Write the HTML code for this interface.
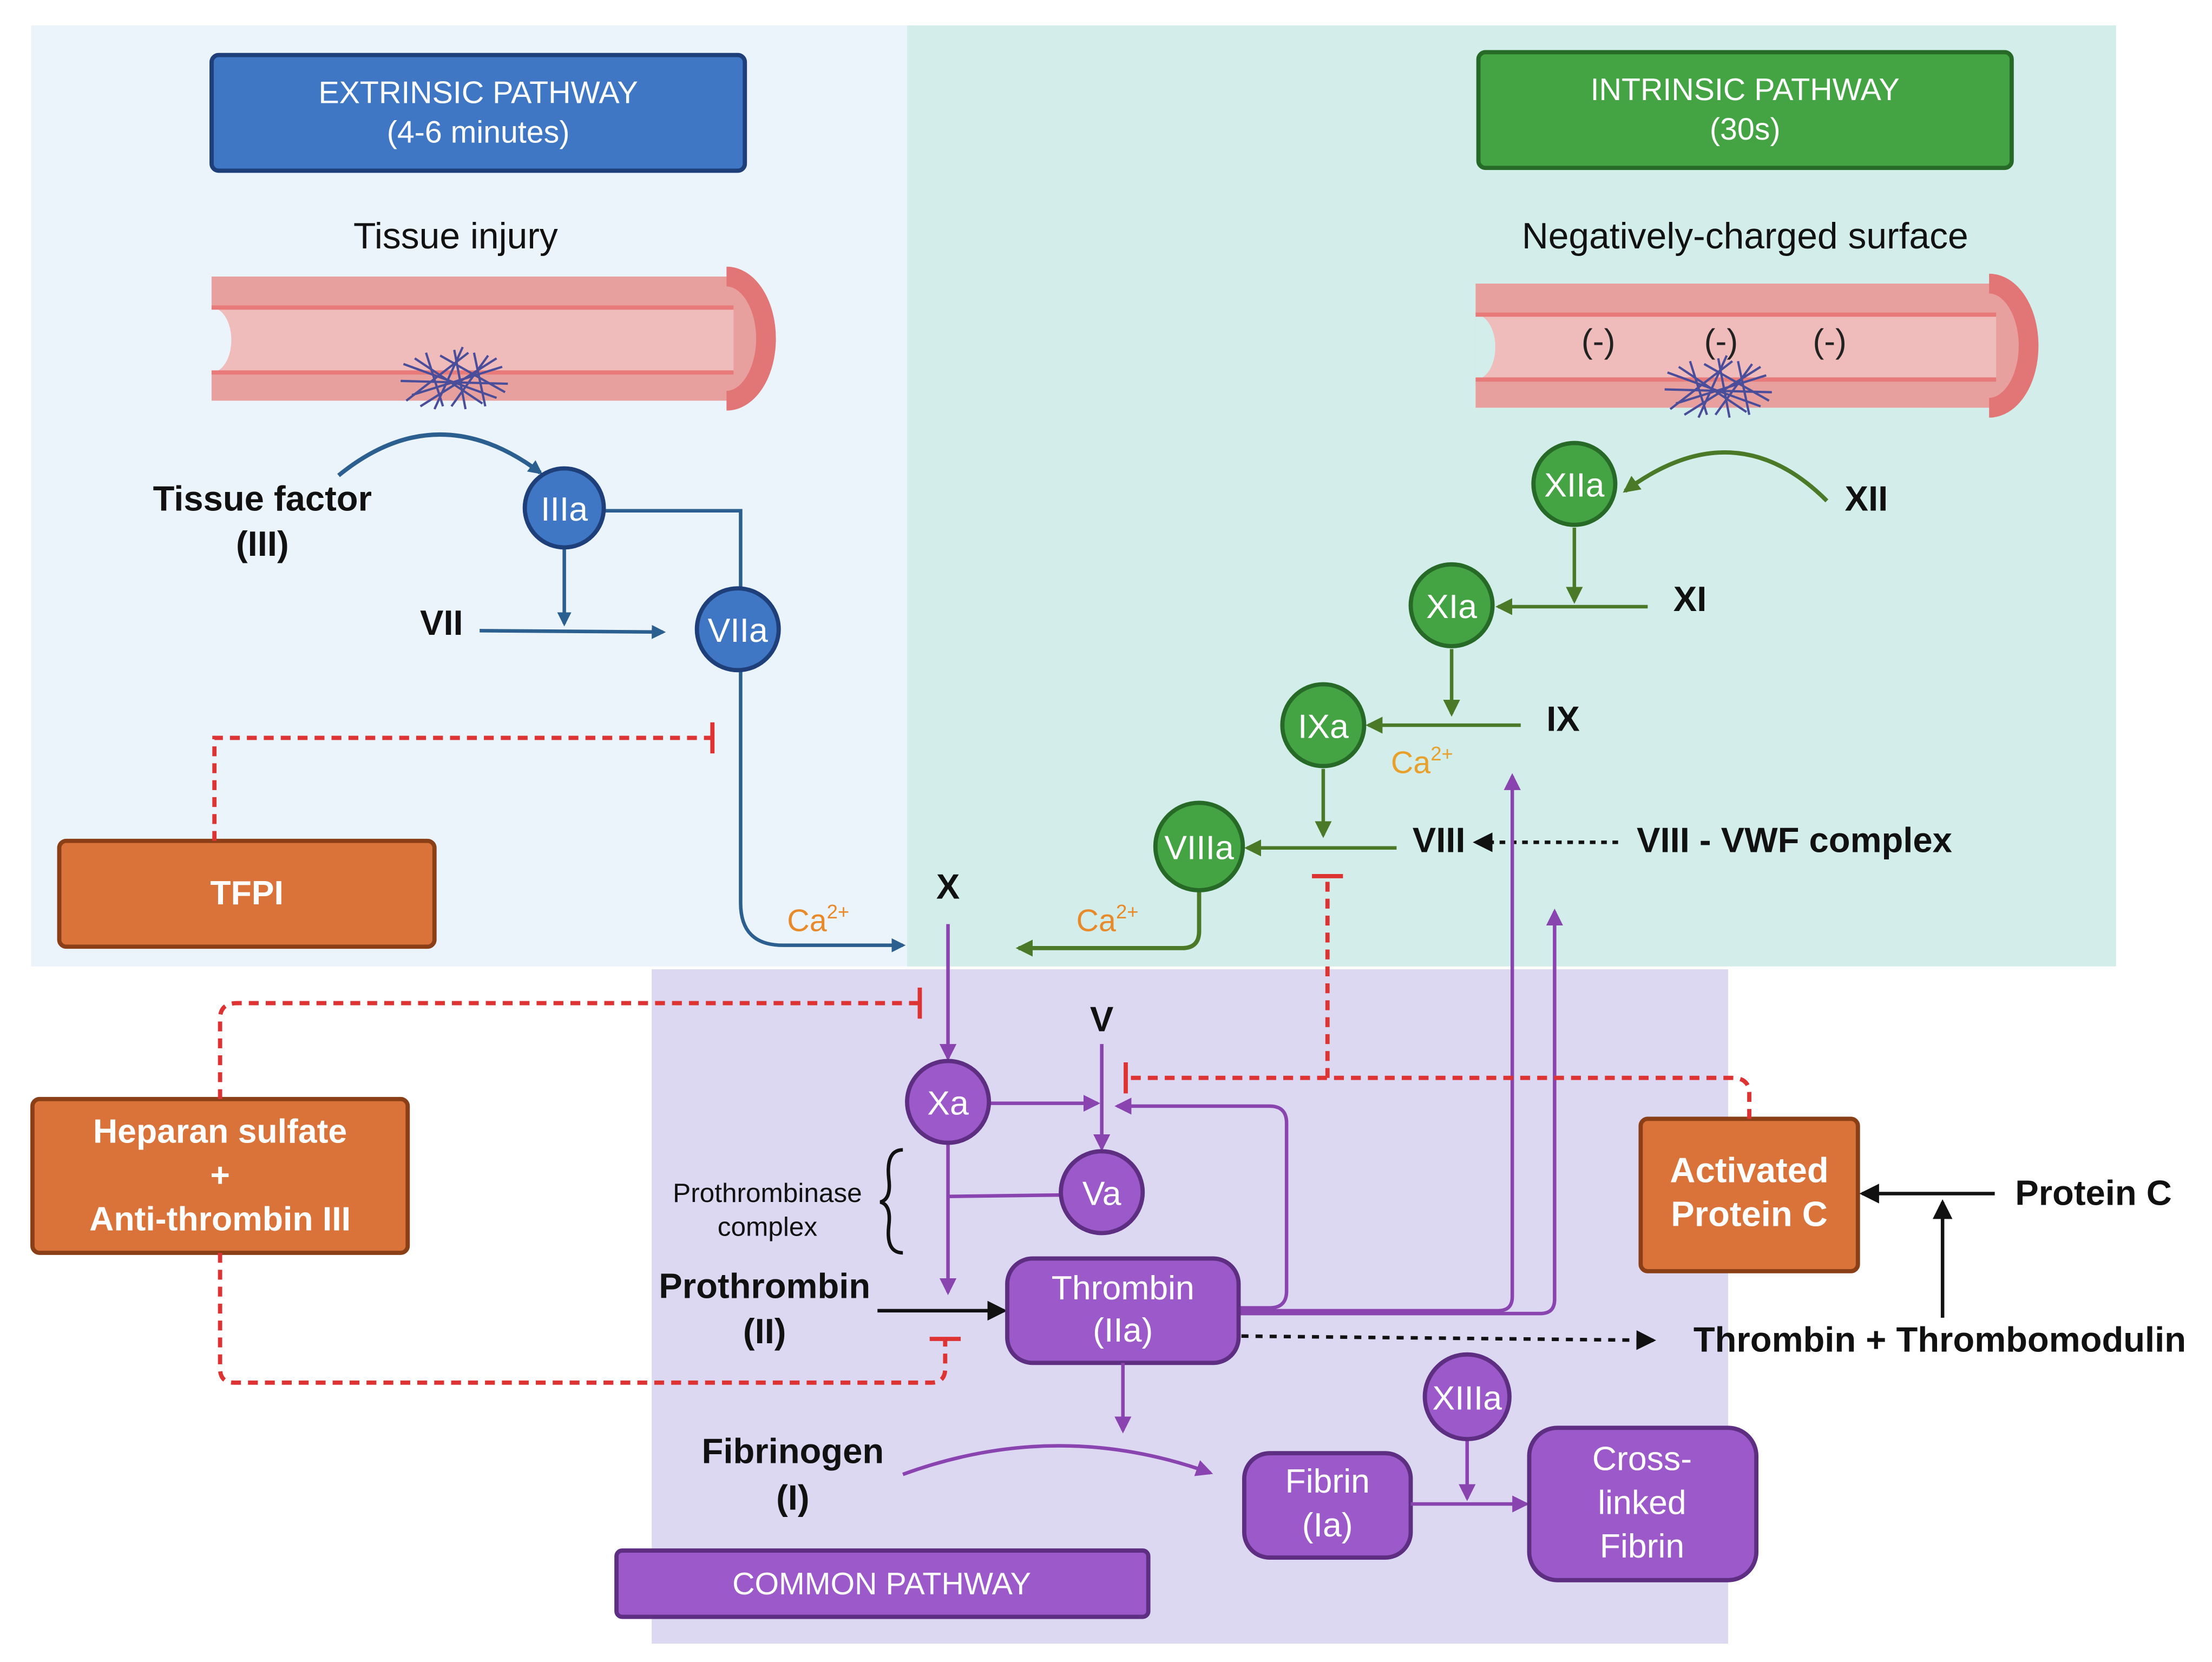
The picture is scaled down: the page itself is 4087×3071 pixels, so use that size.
<!DOCTYPE html>
<html><head><meta charset="utf-8"><style>
html,body{margin:0;padding:0;background:#fff}
svg{display:block}
text{font-family:"Liberation Sans",Arial,sans-serif}
.b{font-weight:bold;fill:#111}
.w{fill:#fff}
</style></head><body>
<svg width="4087" height="3071" viewBox="0 0 1568 1178" preserveAspectRatio="none" xmlns="http://www.w3.org/2000/svg">
<defs>
<marker id="ab" markerWidth="10" markerHeight="10" refX="8" refY="5" orient="auto" markerUnits="userSpaceOnUse"><path d="M0,0L10,5L0,10z" fill="#2b5f8f"/></marker>
<marker id="ag" markerWidth="12" markerHeight="12" refX="10" refY="6" orient="auto" markerUnits="userSpaceOnUse"><path d="M0,0L12,6L0,12z" fill="#4a7a28"/></marker>
<marker id="ap" markerWidth="12" markerHeight="12" refX="10" refY="6" orient="auto" markerUnits="userSpaceOnUse"><path d="M0,0L12,6L0,12z" fill="#8a44b0"/></marker>
<marker id="ak" markerWidth="14" markerHeight="14" refX="12" refY="7" orient="auto" markerUnits="userSpaceOnUse"><path d="M0,0L14,7L0,14z" fill="#111"/></marker>
<g id="clot" stroke="#4a4e9a" stroke-width="1.6" fill="none">
<path d="M-36,-10L30,14M-30,12L34,-8M-20,-18L-8,20M0,-20L8,22M14,-18L22,20M-38,2L38,4M-28,-14L20,18M-10,-16L36,10M-34,16L10,-18M-24,20L30,-14M6,-22L-14,22M24,-16L-2,20"/>
</g>
</defs>
<rect width="1568" height="1178" fill="#fff"/>
<rect x="22" y="18" width="621" height="667" fill="#ebf3fb"/>
<rect x="643" y="18" width="857" height="667" fill="#d3eeea"/>
<rect x="462" y="687" width="763" height="478" fill="#dcd8f2"/>

<rect x="150" y="39" width="378" height="82" rx="5" fill="#3f77c4" stroke="#1e3f7a" stroke-width="3"/>
<text x="339" y="73" class="w" font-size="22" text-anchor="middle">EXTRINSIC PATHWAY</text>
<text x="339" y="101" class="w" font-size="22" text-anchor="middle">(4-6 minutes)</text>
<rect x="1048" y="37" width="378" height="82" rx="5" fill="#44a444" stroke="#276a27" stroke-width="3"/>
<text x="1237" y="71" class="w" font-size="22" text-anchor="middle">INTRINSIC PATHWAY</text>
<text x="1237" y="99" class="w" font-size="22" text-anchor="middle">(30s)</text>
<text x="323" y="176" font-size="26" text-anchor="middle" fill="#111">Tissue injury</text>
<text x="1237" y="176" font-size="26" text-anchor="middle" fill="#111">Negatively-charged surface</text>

<g>
<path d="M150,196H515A28,44 0 0 1 515,284H150Z" fill="#e8a09e"/>
<path d="M515,196A28,44 0 0 1 515,284" fill="none" stroke="#e27575" stroke-width="14"/>
<path d="M150,218H520V264H150A14,23 0 0 0 150,218Z" fill="#efbbbb"/>
<path d="M150,218A14,23 0 0 1 150,264Z" fill="#ebf3fb"/>
<line x1="150" y1="218" x2="520" y2="218" stroke="#e87a7a" stroke-width="3"/>
<line x1="150" y1="264" x2="520" y2="264" stroke="#e87a7a" stroke-width="3"/>
<use href="#clot" x="322" y="268"/>
</g>
<g>
<path d="M1046,201H1410A28,44 0 0 1 1410,289H1046Z" fill="#e8a09e"/>
<path d="M1410,201A28,44 0 0 1 1410,289" fill="none" stroke="#e27575" stroke-width="14"/>
<path d="M1046,223H1415V269H1046A14,23 0 0 0 1046,223Z" fill="#efbbbb"/>
<path d="M1046,223A14,23 0 0 1 1046,269Z" fill="#d3eeea"/>
<line x1="1046" y1="223" x2="1415" y2="223" stroke="#e87a7a" stroke-width="3"/>
<line x1="1046" y1="269" x2="1415" y2="269" stroke="#e87a7a" stroke-width="3"/>
<text x="1133" y="250" font-size="24" text-anchor="middle" fill="#222">(-)</text>
<text x="1220" y="250" font-size="24" text-anchor="middle" fill="#222">(-)</text>
<text x="1297" y="250" font-size="24" text-anchor="middle" fill="#222">(-)</text>
<use href="#clot" x="1218" y="274"/>
</g>

<text x="186" y="362" class="b" font-size="25" text-anchor="middle">Tissue factor</text>
<text x="186" y="394" class="b" font-size="25" text-anchor="middle">(III)</text>
<path d="M240,337Q310,280 383,335" fill="none" stroke="#2b5f8f" stroke-width="3" marker-end="url(#ab)"/>
<path d="M428,362H525V640Q525,670 555,670H640" fill="none" stroke="#2b5f8f" stroke-width="2.5" marker-end="url(#ab)"/>
<line x1="400" y1="388" x2="400" y2="442" stroke="#2b5f8f" stroke-width="2.5" marker-end="url(#ab)"/>
<line x1="340" y1="447" x2="470" y2="448" stroke="#2b5f8f" stroke-width="2.5" marker-end="url(#ab)"/>
<text x="313" y="450" class="b" font-size="25" text-anchor="middle">VII</text>
<circle cx="400" cy="360" r="28" fill="#3f77c4" stroke="#1e3f7a" stroke-width="3"/>
<text x="400" y="369" class="w" font-size="24" text-anchor="middle">IIIa</text>
<circle cx="523" cy="446" r="29" fill="#3f77c4" stroke="#1e3f7a" stroke-width="3"/>
<text x="523" y="455" class="w" font-size="24" text-anchor="middle">VIIa</text>
<text x="580" y="660" font-size="22" fill="#e88a2a" text-anchor="middle">Ca<tspan font-size="14" dy="-9">2+</tspan></text>

<rect x="42" y="596" width="266" height="75" rx="5" fill="#d9733a" stroke="#8a3f17" stroke-width="3"/>
<text x="175" y="641" class="w" font-size="24" font-weight="bold" text-anchor="middle">TFPI</text>
<path d="M152,596V523H505" fill="none" stroke="#d33" stroke-width="3" stroke-dasharray="7 5"/>
<line x1="505" y1="512" x2="505" y2="534" stroke="#d33" stroke-width="3"/>

<path d="M1295,355Q1230,290 1152,348" fill="none" stroke="#4a7a28" stroke-width="3" marker-end="url(#ag)"/>
<text x="1323" y="362" class="b" font-size="25" text-anchor="middle">XII</text>
<line x1="1116" y1="374" x2="1116" y2="426" stroke="#4a7a28" stroke-width="2.5" marker-end="url(#ag)"/>
<line x1="1168" y1="430" x2="1062" y2="430" stroke="#4a7a28" stroke-width="2.5" marker-end="url(#ag)"/>
<text x="1198" y="433" class="b" font-size="25" text-anchor="middle">XI</text>
<line x1="1029" y1="460" x2="1029" y2="506" stroke="#4a7a28" stroke-width="2.5" marker-end="url(#ag)"/>
<line x1="1078" y1="514" x2="970" y2="514" stroke="#4a7a28" stroke-width="2.5" marker-end="url(#ag)"/>
<text x="1108" y="518" class="b" font-size="25" text-anchor="middle">IX</text>
<text x="1008" y="548" font-size="22" fill="#e8a02a" text-anchor="middle">Ca<tspan font-size="14" dy="-9">2+</tspan></text>
<line x1="938" y1="545" x2="938" y2="592" stroke="#4a7a28" stroke-width="2.5" marker-end="url(#ag)"/>
<line x1="990" y1="601" x2="884" y2="601" stroke="#4a7a28" stroke-width="2.5" marker-end="url(#ag)"/>
<text x="1020" y="604" class="b" font-size="25" text-anchor="middle">VIII</text>
<line x1="1147" y1="597" x2="1046" y2="597" stroke="#111" stroke-width="2.5" stroke-dasharray="4 4" marker-end="url(#ak)"/>
<text x="1272" y="604" class="b" font-size="25" text-anchor="middle">VIII - VWF complex</text>
<path d="M850,632V660Q850,672 838,672H722" fill="none" stroke="#4a7a28" stroke-width="3" marker-end="url(#ag)"/>
<text x="785" y="660" font-size="22" fill="#e88a2a" text-anchor="middle">Ca<tspan font-size="14" dy="-9">2+</tspan></text>
<circle cx="1116" cy="343" r="29" fill="#44a444" stroke="#276a27" stroke-width="3"/>
<text x="1116" y="352" class="w" font-size="24" text-anchor="middle">XIIa</text>
<circle cx="1029" cy="429" r="29" fill="#44a444" stroke="#276a27" stroke-width="3"/>
<text x="1029" y="438" class="w" font-size="24" text-anchor="middle">XIa</text>
<circle cx="938" cy="514" r="29" fill="#44a444" stroke="#276a27" stroke-width="3"/>
<text x="938" y="523" class="w" font-size="24" text-anchor="middle">IXa</text>
<circle cx="850" cy="600" r="31" fill="#44a444" stroke="#276a27" stroke-width="3"/>
<text x="850" y="609" class="w" font-size="24" text-anchor="middle">VIIIa</text>

<text x="672" y="637" class="b" font-size="25" text-anchor="middle">X</text>
<line x1="672" y1="655" x2="672" y2="750" stroke="#8a44b0" stroke-width="2.5" marker-end="url(#ap)"/>
<text x="781" y="731" class="b" font-size="25" text-anchor="middle">V</text>
<line x1="781" y1="740" x2="781" y2="814" stroke="#8a44b0" stroke-width="2.5" marker-end="url(#ap)"/>
<line x1="702" y1="782" x2="778" y2="782" stroke="#8a44b0" stroke-width="2.5" marker-end="url(#ap)"/>
<line x1="672" y1="810" x2="672" y2="916" stroke="#8a44b0" stroke-width="2.5" marker-end="url(#ap)"/>
<line x1="672" y1="848" x2="752" y2="847" stroke="#8a44b0" stroke-width="2.5"/>
<path d="M878,927H900Q912,927 912,915V796Q912,784 900,784H792" fill="none" stroke="#8a44b0" stroke-width="2.5" marker-end="url(#ap)"/>
<path d="M878,929H1062Q1072,929 1072,919V550" fill="none" stroke="#8a44b0" stroke-width="2.5" marker-end="url(#ap)"/>
<path d="M878,931H1092Q1102,931 1102,921V646" fill="none" stroke="#8a44b0" stroke-width="2.5" marker-end="url(#ap)"/>
<circle cx="672" cy="781" r="29" fill="#9b59c9" stroke="#5e2e82" stroke-width="3"/>
<text x="672" y="790" class="w" font-size="24" text-anchor="middle">Xa</text>
<circle cx="781" cy="845" r="29" fill="#9b59c9" stroke="#5e2e82" stroke-width="3"/>
<text x="781" y="854" class="w" font-size="24" text-anchor="middle">Va</text>
<text x="544" y="852" font-size="19" fill="#111" text-anchor="middle">Prothrombinase</text>
<text x="544" y="876" font-size="19" fill="#111" text-anchor="middle">complex</text>
<path d="M640,815Q628,815 630,835Q632,850 624,852Q632,854 630,869Q628,888 640,888" fill="none" stroke="#111" stroke-width="2.5"/>
<text x="542" y="920" class="b" font-size="25" text-anchor="middle">Prothrombin</text>
<text x="542" y="952" class="b" font-size="25" text-anchor="middle">(II)</text>
<line x1="622" y1="929" x2="712" y2="929" stroke="#111" stroke-width="2.5" marker-end="url(#ak)"/>
<rect x="714" y="892" width="164" height="74" rx="18" fill="#9b59c9" stroke="#5e2e82" stroke-width="3"/>
<text x="796" y="921" class="w" font-size="24" text-anchor="middle">Thrombin</text>
<text x="796" y="951" class="w" font-size="24" text-anchor="middle">(IIa)</text>
<line x1="880" y1="947" x2="1172" y2="950" stroke="#111" stroke-width="2.5" stroke-dasharray="5 5" marker-end="url(#ak)"/>
<text x="1375" y="958" class="b" font-size="25" text-anchor="middle">Thrombin + Thrombomodulin</text>
<line x1="796" y1="966" x2="796" y2="1014" stroke="#8a44b0" stroke-width="2.5" marker-end="url(#ap)"/>
<text x="562" y="1037" class="b" font-size="25" text-anchor="middle">Fibrinogen</text>
<text x="562" y="1070" class="b" font-size="25" text-anchor="middle">(I)</text>
<path d="M640,1045Q750,1005 858,1044" fill="none" stroke="#8a44b0" stroke-width="2.5" marker-end="url(#ap)"/>
<rect x="882" y="1030" width="118" height="74" rx="18" fill="#9b59c9" stroke="#5e2e82" stroke-width="3"/>
<text x="941" y="1058" class="w" font-size="24" text-anchor="middle">Fibrin</text>
<text x="941" y="1089" class="w" font-size="24" text-anchor="middle">(Ia)</text>
<line x1="1040" y1="1018" x2="1040" y2="1062" stroke="#8a44b0" stroke-width="2.5" marker-end="url(#ap)"/>
<line x1="1000" y1="1066" x2="1082" y2="1066" stroke="#8a44b0" stroke-width="2.5" marker-end="url(#ap)"/>
<circle cx="1040" cy="990" r="30" fill="#9b59c9" stroke="#5e2e82" stroke-width="3"/>
<text x="1040" y="999" class="w" font-size="24" text-anchor="middle">XIIIa</text>
<rect x="1084" y="1012" width="161" height="108" rx="20" fill="#9b59c9" stroke="#5e2e82" stroke-width="3"/>
<text x="1164" y="1042" class="w" font-size="24" text-anchor="middle">Cross-</text>
<text x="1164" y="1073" class="w" font-size="24" text-anchor="middle">linked</text>
<text x="1164" y="1104" class="w" font-size="24" text-anchor="middle">Fibrin</text>
<rect x="437" y="1099" width="377" height="47" rx="4" fill="#9b59c9" stroke="#5e2e82" stroke-width="3"/>
<text x="625" y="1130" class="w" font-size="22" text-anchor="middle">COMMON PATHWAY</text>

<rect x="23" y="779" width="266" height="109" rx="5" fill="#d9733a" stroke="#8a3f17" stroke-width="3"/>
<text x="156" y="810" class="w" font-size="24" font-weight="bold" text-anchor="middle">Heparan sulfate</text>
<text x="156" y="841" class="w" font-size="24" font-weight="bold" text-anchor="middle">+</text>
<text x="156" y="872" class="w" font-size="24" font-weight="bold" text-anchor="middle">Anti-thrombin III</text>
<path d="M156,779V722Q156,711 168,711H652" fill="none" stroke="#d33" stroke-width="3" stroke-dasharray="7 5"/>
<line x1="652" y1="700" x2="652" y2="722" stroke="#d33" stroke-width="3"/>
<path d="M156,888V970Q156,980 166,980H660Q670,980 670,970V950" fill="none" stroke="#d33" stroke-width="3" stroke-dasharray="7 5"/>
<line x1="659" y1="949" x2="681" y2="949" stroke="#d33" stroke-width="3"/>
<rect x="1163" y="793" width="154" height="108" rx="5" fill="#d9733a" stroke="#8a3f17" stroke-width="3"/>
<text x="1240" y="838" class="w" font-size="25" font-weight="bold" text-anchor="middle">Activated</text>
<text x="1240" y="869" class="w" font-size="25" font-weight="bold" text-anchor="middle">Protein C</text>
<path d="M1240,793V775Q1240,764 1228,764H800" fill="none" stroke="#d33" stroke-width="3" stroke-dasharray="7 5"/>
<line x1="798" y1="753" x2="798" y2="775" stroke="#d33" stroke-width="3"/>
<line x1="941" y1="764" x2="941" y2="622" stroke="#d33" stroke-width="3" stroke-dasharray="7 5"/>
<line x1="930" y1="621" x2="952" y2="621" stroke="#d33" stroke-width="3"/>
<text x="1484" y="854" class="b" font-size="25" text-anchor="middle">Protein C</text>
<line x1="1414" y1="846" x2="1320" y2="846" stroke="#111" stroke-width="2.5" marker-end="url(#ak)"/>
<line x1="1377" y1="934" x2="1377" y2="852" stroke="#111" stroke-width="2.5" marker-end="url(#ak)"/>
</svg>
</body></html>
